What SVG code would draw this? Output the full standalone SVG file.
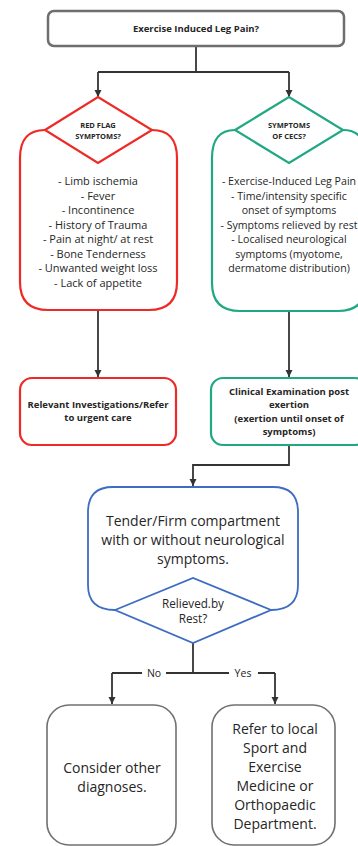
<svg xmlns="http://www.w3.org/2000/svg" width="358" height="846" viewBox="0 0 358 846">
<defs>
<style>
text{font-family:"Open Sans","Noto Sans","Liberation Sans",sans-serif;fill:#262626;text-anchor:middle}
.b{font-weight:bold}
.conn{fill:none;stroke:#333;stroke-width:1.8}
.red{fill:none;stroke:#ee2a26;stroke-width:2.2;stroke-linejoin:miter}
.grn{fill:none;stroke:#20a883;stroke-width:2.2}
.blu{fill:none;stroke:#3d6cc2;stroke-width:1.8}
.gry{fill:#fff;stroke:#707070;stroke-width:1.6}
.lst{font-size:11px}
.gl{font-size:10.6px}
.sm{font-size:7.5px;font-weight:bold}
.bx{font-size:9.5px;font-weight:bold}
.big{font-size:14px}
</style>
<marker id="ah" markerUnits="userSpaceOnUse" markerWidth="8" markerHeight="8" refX="7" refY="4" orient="auto">
<path d="M0,0.5 L7,4 L0,7.5 z" fill="#333"/>
</marker>
</defs>
<rect width="358" height="846" fill="#fff"/>

<g id="connectors">
<path class="conn" d="M196,46 V72"/>
<path class="conn" d="M98,72 H289"/>
<path class="conn" d="M98,72 V97" marker-end="url(#ah)"/>
<path class="conn" d="M289,72 V97" marker-end="url(#ah)"/>
<path class="conn" d="M98,310 V377" marker-end="url(#ah)"/>
<path class="conn" d="M289,311 V377" marker-end="url(#ah)"/>
<path class="conn" d="M289,445 V465 H193 V486" marker-end="url(#ah)"/>
<path class="conn" d="M193,643 V673"/>
<path class="conn" d="M112,673 H142 M166,673 H229 M258,673 H275"/>
<path class="conn" d="M112,673 V704" marker-end="url(#ah)"/>
<path class="conn" d="M275,673 V704" marker-end="url(#ah)"/>
<text x="154" y="677" style="font-size:10.5px">No</text>
<text x="243" y="677" style="font-size:10.5px">Yes</text>
</g>

<g id="start">
<rect x="48" y="11" width="296" height="35" rx="6" fill="#fff" stroke="#6e6e6e" stroke-width="2.5"/>
<text class="b" x="196" y="31.5" style="font-size:9.5px">Exercise Induced Leg Pain?</text>
</g>

<g id="red-flag">
<path class="red" d="M45,130 Q20,130 20,158 V282 Q20,310 48,310 H149 Q177,310 177,282 V158 Q177,130 152,130"/>
<path class="red" d="M45,130 L98,97 L152,130 L98,163 Z"/>
<text class="sm" x="98" y="127.5">RED FLAG</text>
<text class="sm" x="98" y="138.5">SYMPTOMS?</text>
<text class="lst" x="98" y="185">- Limb ischemia</text>
<text class="lst" x="98" y="199.5">- Fever</text>
<text class="lst" x="98" y="214">- Incontinence</text>
<text class="lst" x="98" y="228.5">- History of Trauma</text>
<text class="lst" x="98" y="243">- Pain at night/ at rest</text>
<text class="lst" x="98" y="257.5">- Bone Tenderness</text>
<text class="lst" x="98" y="272">- Unwanted weight loss</text>
<text class="lst" x="98" y="286.5">- Lack of appetite</text>
</g>

<g id="cecs">
<path class="grn" d="M235,130 Q212,130 212,158 V283 Q212,311 240,311 H338 Q366,311 366,283 V158 Q366,130 343,130"/>
<path class="grn" d="M235,130 L289,97 L343,130 L289,163 Z"/>
<text class="sm" x="289" y="127.5">SYMPTOMS</text>
<text class="sm" x="289" y="138.5">OF CECS?</text>
<text class="gl" x="289" y="185">- Exercise-Induced Leg Pain</text>
<text class="gl" x="289" y="199.5">- Time/intensity specific</text>
<text class="gl" x="289" y="214">onset of symptoms</text>
<text class="gl" x="289" y="228.5">- Symptoms relieved by rest</text>
<text class="gl" x="289" y="243">- Localised neurological</text>
<text class="gl" x="289" y="257.5">symptoms (myotome,</text>
<text class="gl" x="289" y="272">dermatome distribution)</text>
</g>

<g id="urgent">
<rect x="20" y="378" width="156" height="67" rx="12" fill="#fff" stroke="#ee2a26" stroke-width="2.2"/>
<text class="bx" x="98" y="407.5">Relevant Investigations/Refer</text>
<text class="bx" x="98" y="421">to urgent care</text>
</g>

<g id="exam">
<rect x="211" y="378" width="156" height="67" rx="12" fill="#fff" stroke="#20a883" stroke-width="2.2"/>
<text class="bx" x="289" y="394.5">Clinical Examination post</text>
<text class="bx" x="289" y="408">exertion</text>
<text class="bx" x="289" y="421.5">(exertion until onset of</text>
<text class="bx" x="289" y="435">symptoms)</text>
</g>

<g id="tender">
<path class="blu" d="M115,610 Q88,610 88,585 V512 Q88,487 113,487 H273 Q298,487 298,512 V585 Q298,610 271,610"/>
<path class="blu" d="M115,610 L193,578 L271,610 L193,643 Z" fill="#fff"/>
<text x="193" y="526" style="font-size:14px">Tender/Firm compartment</text>
<text x="193" y="545" style="font-size:14px">with or without neurological</text>
<text x="193" y="564" style="font-size:14px">symptoms.</text>
<text x="193" y="607.5" style="font-size:11.7px">Relieved.by</text>
<text x="193" y="622.5" style="font-size:11.7px">Rest?</text>
</g>

<g id="other">
<rect class="gry" x="47" y="705" width="129" height="140" rx="22"/>
<text class="big" x="112" y="773">Consider other</text>
<text class="big" x="112" y="792">diagnoses.</text>
</g>

<g id="refer">
<rect class="gry" x="212" y="705" width="123" height="140" rx="22"/>
<text class="big" x="275" y="734">Refer to local</text>
<text class="big" x="275" y="753">Sport and</text>
<text class="big" x="275" y="772">Exercise</text>
<text class="big" x="275" y="791">Medicine or</text>
<text class="big" x="275" y="810">Orthopaedic</text>
<text class="big" x="275" y="829">Department.</text>
</g>
</svg>
